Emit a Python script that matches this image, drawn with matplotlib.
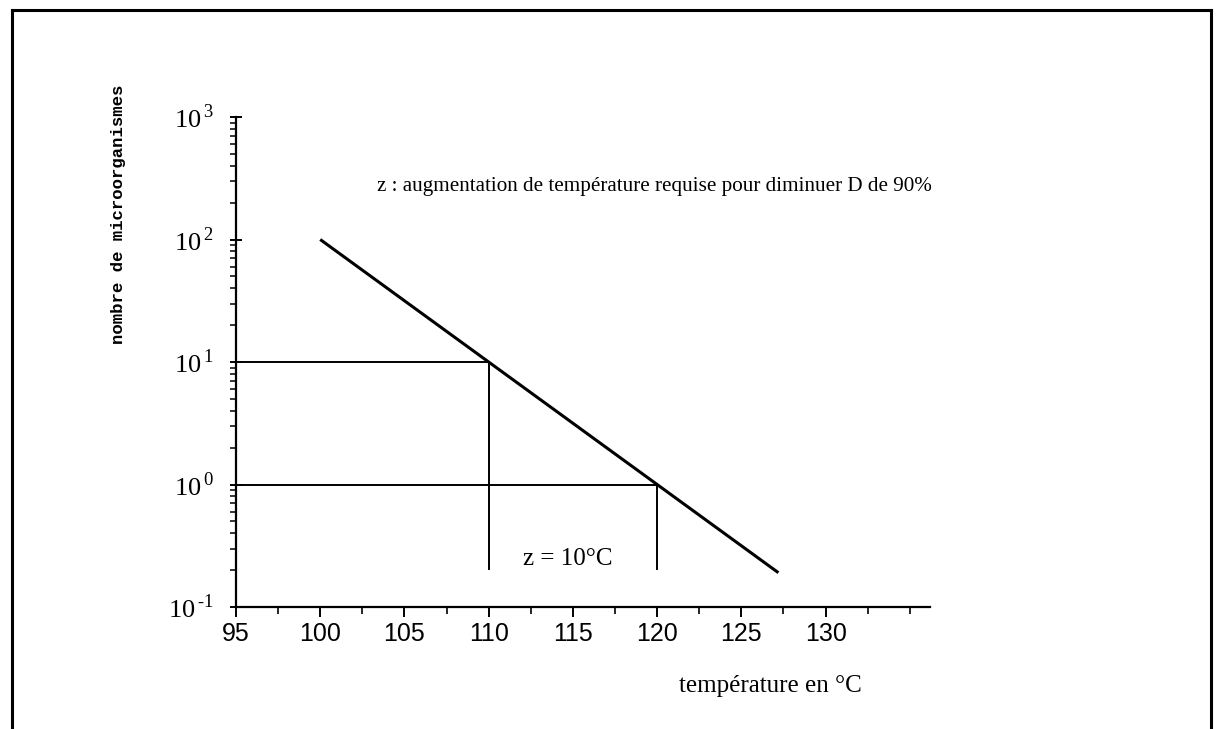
import numpy as np
import matplotlib
matplotlib.use("Agg")
import matplotlib.pyplot as plt
from matplotlib.lines import Line2D
from matplotlib.ticker import FixedLocator, FixedFormatter, LogLocator, NullFormatter

# ── Data ──────────────────────────────────────────────────────────────────────
temp_line = [100.0, 127.2]                # droite de destruction thermique
log_count_line = [2.0, -0.72]
count_line = [10 ** v for v in log_count_line]

guide_h_y = [10.0, 1.0]                   # repères horizontaux
guide_h_x = [110.0, 120.0]
guide_v_bottom = [0.205, 0.205]           # bas des repères verticaux

x_ticks = [95, 100, 105, 110, 115, 120, 125, 130]
y_ticks = [0.1, 1, 10, 100, 1000]
y_exps = ["\u2010" + "1", "0", "1", "2", "3"]

# ── Style ─────────────────────────────────────────────────────────────────────
plt.rcParams["mathtext.fontset"] = "custom"
plt.rcParams["mathtext.rm"] = "Liberation Serif"
SERIF = ["Liberation Serif", "DejaVu Serif"]
SANS = ["Liberation Sans Narrow", "Liberation Sans", "DejaVu Sans"]
MONO = ["Liberation Mono", "DejaVu Sans Mono"]

fig = plt.figure(figsize=(12.18, 7.29), dpi=100)
ax = fig.add_axes([236 / 1218, 1 - 607 / 729, 694 / 1218, 490 / 729])

ax.set_yscale("log")
ax.set_xlim(95, 136.2)
ax.set_ylim(0.1, 1000)

# droite principale
ax.plot(temp_line, count_line, color="black", lw=2.2, solid_capstyle="butt")

# repères
for yv, xv, yb in zip(guide_h_y, guide_h_x, guide_v_bottom):
    ax.plot([95, xv], [yv, yv], color="black", lw=1.4)
    ax.plot([xv, xv], [yv, yb], color="black", lw=1.4)

# textes
ax.text(103.4, 270, "z : augmentation de température requise pour diminuer D de 90%",
        family=SERIF, fontsize=15.2, va="center", ha="left")
ax.text(114.7, 0.245, "z = 10°C", family=SERIF, fontsize=18, va="center", ha="center")
fig.text(770 / 1218, 1 - 686 / 729, "température en °C", family=SERIF, fontsize=18,
         va="center", ha="center")
fig.text(118 / 1218, 1 - 214 / 729, "nombre de microorganismes", family=MONO,
         fontsize=12.5, fontweight="bold", rotation=90, va="center", ha="center")

# axes
for s in ["top", "right"]:
    ax.spines[s].set_visible(False)
ax.spines["left"].set_linewidth(1.6)
ax.spines["bottom"].set_linewidth(1.6)

ax.xaxis.set_major_locator(FixedLocator(x_ticks))
ax.xaxis.set_minor_locator(FixedLocator(np.arange(97.5, 136, 2.5)))
ax.set_xticklabels([str(t) for t in x_ticks], family=SANS, fontsize=18)
ax.tick_params(axis="x", which="major", direction="out", length=7, width=1.4, pad=4)
ax.tick_params(axis="x", which="minor", direction="out", length=5, width=1.2)

ax.yaxis.set_major_locator(FixedLocator(y_ticks))
ax.yaxis.set_major_formatter(FixedFormatter(["$10^{\\,%s}$" % e for e in y_exps]))
ax.yaxis.set_minor_locator(LogLocator(base=10, subs=np.arange(2, 10)))
ax.yaxis.set_minor_formatter(NullFormatter())
ax.tick_params(axis="y", which="major", direction="inout", length=8, width=1.4,
               labelsize=19, pad=12)
ax.tick_params(axis="y", which="minor", direction="out", length=4, width=1.1)

# cadre
x0, x1 = 12 / 1218, 1211 / 1218
y_top = 1 - 10 / 729
for xs, ys in [([x0, x0], [0, y_top]), ([x0, x1], [y_top, y_top]), ([x1, x1], [y_top, 0])]:
    fig.add_artist(Line2D(xs, ys, color="black", lw=2.2, transform=fig.transFigure))

fig.savefig("out.png", dpi=100)
